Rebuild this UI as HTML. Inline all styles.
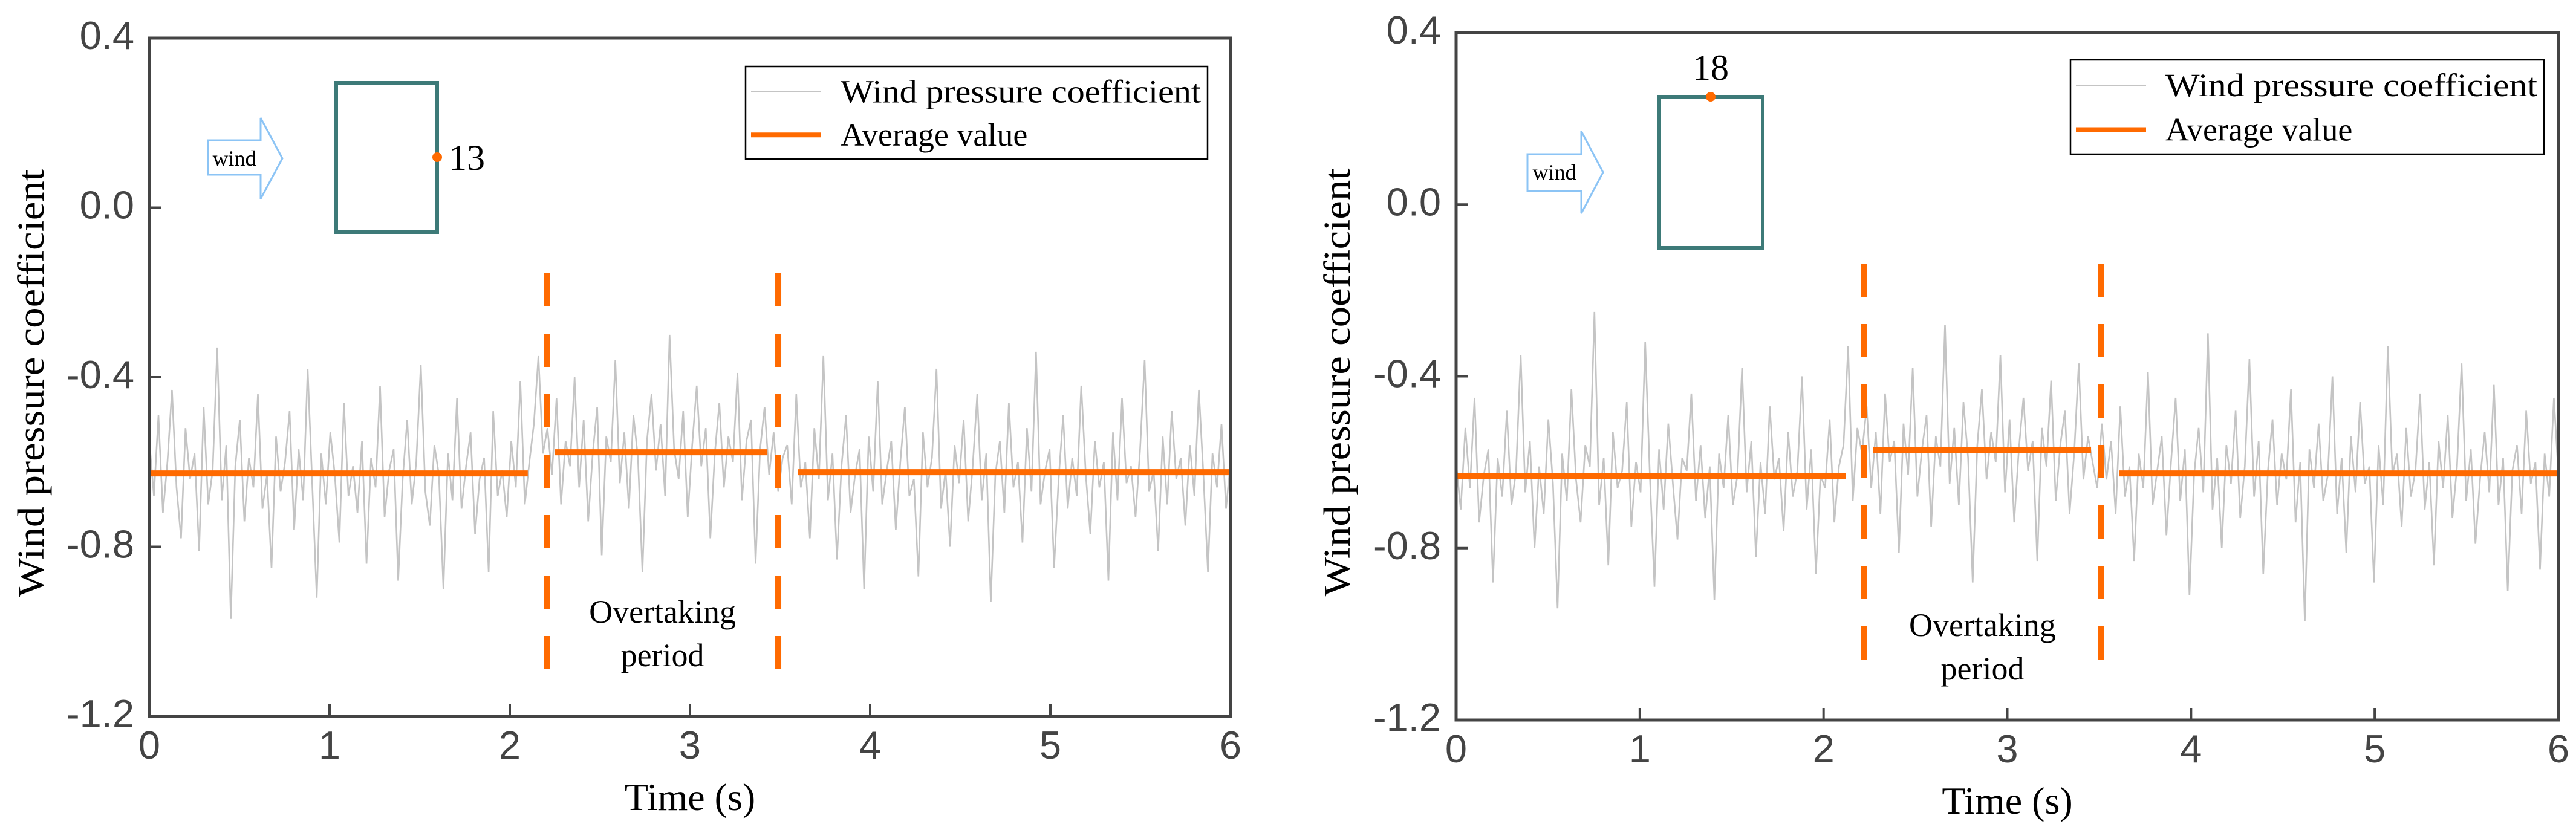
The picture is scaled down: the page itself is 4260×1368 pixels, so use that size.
<!DOCTYPE html>
<html><head><meta charset="utf-8"><style>
html,body{margin:0;padding:0;background:#fff;}
svg{display:block;}
</style></head><body>
<svg id="fig" width="4260" height="1368" viewBox="0 0 4260 1368" xmlns="http://www.w3.org/2000/svg"></svg>
<script>
const xTicks = [0,1,2,3,4,5,6];
const yTicks = [0.4,0.0,-0.4,-0.8,-1.2];
const yTickLabels = ["0.4","0.0","-0.4","-0.8","-1.2"];
const noiseLeft = [
-0.55,-0.68,-0.49,-0.72,-0.60,-0.43,-0.66,-0.78,-0.52,-0.64,
-0.58,-0.81,-0.47,-0.70,-0.62,-0.33,-0.69,-0.56,-0.97,-0.61,
-0.50,-0.74,-0.59,-0.66,-0.44,-0.71,-0.63,-0.85,-0.54,-0.67,
-0.60,-0.48,-0.76,-0.57,-0.69,-0.38,-0.65,-0.92,-0.58,-0.70,
-0.53,-0.63,-0.79,-0.46,-0.68,-0.61,-0.72,-0.55,-0.84,-0.59,
-0.66,-0.42,-0.73,-0.62,-0.57,-0.88,-0.64,-0.50,-0.70,-0.60,
-0.37,-0.67,-0.75,-0.56,-0.63,-0.90,-0.58,-0.69,-0.45,-0.71,
-0.61,-0.53,-0.77,-0.64,-0.59,-0.86,-0.48,-0.68,-0.62,-0.73,
-0.55,-0.66,-0.41,-0.70,-0.60,-0.51,-0.35,-0.58,
-0.52,-0.63,-0.45,-0.70,-0.55,-0.61,-0.40,-0.66,-0.50,-0.74,
-0.58,-0.47,-0.82,-0.54,-0.60,-0.36,-0.65,-0.53,-0.71,-0.49,
-0.59,-0.86,-0.55,-0.44,-0.62,-0.51,-0.68,-0.30,-0.57,-0.64,
-0.48,-0.73,-0.56,-0.42,-0.61,-0.52,-0.78,-0.58,-0.46,-0.66,
-0.54,-0.60,-0.39,-0.69,-0.55,-0.50,-0.84,-0.57,-0.47,-0.63,
-0.53,-0.67,-0.59,
-0.56,-0.70,-0.44,-0.66,-0.60,-0.78,-0.52,-0.64,-0.35,-0.69,
-0.58,-0.83,-0.61,-0.49,-0.72,-0.63,-0.57,-0.90,-0.54,-0.67,
-0.41,-0.70,-0.62,-0.55,-0.76,-0.60,-0.47,-0.68,-0.64,-0.87,
-0.53,-0.66,-0.59,-0.38,-0.71,-0.62,-0.80,-0.56,-0.65,-0.50,
-0.74,-0.61,-0.44,-0.69,-0.58,-0.93,-0.63,-0.55,-0.72,-0.46,
-0.66,-0.60,-0.79,-0.52,-0.67,-0.34,-0.70,-0.62,-0.57,-0.85,
-0.64,-0.49,-0.71,-0.59,-0.68,-0.42,-0.63,-0.77,-0.55,-0.66,
-0.60,-0.88,-0.53,-0.69,-0.45,-0.65,-0.61,-0.73,-0.57,-0.36,
-0.67,-0.62,-0.81,-0.54,-0.70,-0.48,-0.64,-0.59,-0.75,-0.56,
-0.68,-0.43,-0.63,-0.86,-0.58,-0.66,-0.51,-0.71,-0.60];
const noiseRight = [
-0.60,-0.71,-0.52,-0.66,-0.45,-0.74,-0.63,-0.57,-0.88,-0.59,
-0.68,-0.48,-0.70,-0.62,-0.35,-0.67,-0.55,-0.80,-0.61,-0.72,
-0.50,-0.65,-0.94,-0.58,-0.69,-0.43,-0.64,-0.74,-0.56,-0.61,
-0.25,-0.70,-0.59,-0.84,-0.53,-0.66,-0.62,-0.46,-0.75,-0.60,
-0.67,-0.32,-0.63,-0.89,-0.57,-0.71,-0.51,-0.65,-0.78,-0.59,
-0.62,-0.44,-0.69,-0.56,-0.73,-0.61,-0.92,-0.58,-0.66,-0.49,
-0.70,-0.63,-0.38,-0.67,-0.55,-0.82,-0.60,-0.72,-0.47,-0.64,
-0.59,-0.76,-0.53,-0.68,-0.62,-0.40,-0.71,-0.57,-0.86,-0.63,
-0.66,-0.50,-0.74,-0.61,-0.56,-0.33,-0.69,-0.52,
-0.58,-0.47,-0.66,-0.53,-0.72,-0.44,-0.60,-0.55,-0.81,-0.51,
-0.63,-0.38,-0.68,-0.57,-0.49,-0.75,-0.54,-0.61,-0.28,-0.65,
-0.52,-0.70,-0.46,-0.59,-0.88,-0.56,-0.43,-0.64,-0.53,-0.60,
-0.35,-0.67,-0.50,-0.74,-0.57,-0.45,-0.62,-0.55,-0.83,-0.52,
-0.61,-0.41,-0.69,-0.56,-0.48,-0.72,-0.58,-0.37,-0.64,-0.54,
-0.60,-0.66,-0.51,
-0.64,-0.55,-0.72,-0.47,-0.68,-0.61,-0.83,-0.58,-0.66,-0.39,
-0.70,-0.62,-0.54,-0.77,-0.60,-0.45,-0.69,-0.57,-0.91,-0.63,
-0.52,-0.67,-0.30,-0.71,-0.59,-0.80,-0.56,-0.65,-0.48,-0.73,
-0.61,-0.36,-0.68,-0.55,-0.86,-0.62,-0.50,-0.70,-0.58,-0.64,
-0.43,-0.74,-0.60,-0.97,-0.57,-0.66,-0.51,-0.69,-0.63,-0.40,
-0.72,-0.59,-0.81,-0.54,-0.67,-0.46,-0.65,-0.61,-0.88,-0.56,
-0.70,-0.33,-0.63,-0.58,-0.75,-0.52,-0.68,-0.62,-0.44,-0.71,
-0.60,-0.84,-0.55,-0.66,-0.49,-0.73,-0.61,-0.37,-0.69,-0.57,
-0.79,-0.64,-0.53,-0.67,-0.42,-0.70,-0.59,-0.90,-0.62,-0.56,
-0.72,-0.48,-0.65,-0.60,-0.85,-0.58,-0.68,-0.45,-0.63];
const avgStartLeft = [0, 2.25, 3.6];
const avgEndLeft = [2.1, 3.43, 6];
const avgValueLeft = [-0.627, -0.577, -0.624];
const avgStartRight = [0, 2.27, 3.61];
const avgEndRight = [2.12, 3.456, 6];
const avgValueRight = [-0.632, -0.572, -0.626];
const overtakeLeft = [2.205, 3.49];
const overtakeRight = [2.22, 3.51];
const pointLeft = "13";
const pointRight = "18";

const NS = "http://www.w3.org/2000/svg";
const svg = document.getElementById('fig');
function mk(tag, attrs, parent, text){
  const e = document.createElementNS(NS, tag);
  for (const k in attrs) e.setAttribute(k, attrs[k]);
  if (text !== undefined) e.textContent = text;
  (parent || svg).appendChild(e);
  return e;
}
const SERIF = '"Liberation Serif", serif';
const SANS = '"Liberation Sans", "DejaVu Sans", sans-serif';
const ORANGE = '#ff6a00';

function drawPanel(P){
  const g = mk('g', {});
  
  
  const sx = t => P.x0 + (t - 0) / 6 * (P.x1 - P.x0);
  const sy = v => P.y1 + (v - (-1.2)) / 1.6 * (P.y0 - P.y1);

  let d = '';
  const n = P.noise.length;
  P.noise.forEach((v, i) => { d += (i ? 'L' : 'M') + sx(i * 6 / (n - 1)).toFixed(1) + ' ' + sy(v).toFixed(1); });
  const nl = mk('path', {d: d, fill: 'none', stroke: '#c4c4c4', 'stroke-width': 2.6}, g);
  
  

  P.avgS.forEach((s, i) => {
    const l = mk('line', {x1: sx(s), x2: sx(P.avgE[i]), y1: sy(P.avgV[i]), y2: sy(P.avgV[i]), stroke: ORANGE, 'stroke-width': 10}, g);
    
    
  });
  P.dash.forEach((t, i) => {
    const l = mk('line', {x1: sx(t), x2: sx(t), y1: P.dashY0, y2: P.dashY1, stroke: ORANGE, 'stroke-width': 10, 'stroke-dasharray': '55 45'}, g);
    
    
  });
  const ot = mk('text', {x: (sx(P.dash[0]) + sx(P.dash[1])) / 2, y: P.otY, 'font-family': SERIF, 'font-size': 54, 'text-anchor': 'middle', fill: '#000'}, g, 'Overtaking');
  
  
  const ot2 = mk('text', {x: (sx(P.dash[0]) + sx(P.dash[1])) / 2, y: P.otY + 72, 'font-family': SERIF, 'font-size': 54, 'text-anchor': 'middle', fill: '#000'}, g, 'period');
  
  

  const fr = mk('rect', {x: P.x0, y: P.y0, width: P.x1 - P.x0, height: P.y1 - P.y0, fill: 'none', stroke: '#444', 'stroke-width': 5}, g);
  
  
  xTicks.forEach(t => {
    if (t > 0 && t < 6) {
      const tk = mk('line', {x1: sx(t), x2: sx(t), y1: P.y1, y2: P.y1 - 20, stroke: '#444', 'stroke-width': 4}, g);
      
      
    }
    const lb = mk('text', {x: sx(t), y: P.y1 + 70, 'font-family': SANS, 'font-size': 65, 'text-anchor': 'middle', fill: '#444'}, g, String(t));
    
    
  });
  yTicks.forEach((v, i) => {
    if (v < 0.39 && v > -1.19) {
      const tk = mk('line', {x1: P.x0, x2: P.x0 + 20, y1: sy(v), y2: sy(v), stroke: '#444', 'stroke-width': 4}, g);
      
      
    }
    const lb = mk('text', {x: P.x0 - 25, y: sy(v) + 18, 'font-family': SANS, 'font-size': 65, 'text-anchor': 'end', fill: '#444'}, g, yTickLabels[i]);
    
    
  });
  const xt = mk('text', {x: (P.x0 + P.x1) / 2, y: P.y1 + 155, 'font-family': SERIF, 'font-size': 64, 'text-anchor': 'middle', fill: '#000'}, g, 'Time (s)');
  
  
  const yt = mk('text', {x: 0, y: 0, 'font-family': SERIF, 'font-size': 62, 'text-anchor': 'middle', fill: '#000', textLength: 708, lengthAdjust: 'spacingAndGlyphs', transform: 'translate(' + P.ytX + ',' + ((P.y0 + P.y1) / 2 + 10) + ') rotate(-90)'}, g, 'Wind pressure coefficient');
  
  

  const lg = mk('g', {}, g);
  
  
  mk('rect', {x: P.lg[0], y: P.lg[1], width: P.lg[2], height: P.lg[3], fill: '#fff', stroke: '#000', 'stroke-width': 2.5}, lg);
  const ls = P.lg[0] + 9, le = P.lg[0] + 125, tx = P.lg[0] + 157;
  const r1 = P.lg[1] + P.lg[3] * 0.27, r2 = P.lg[1] + P.lg[3] * 0.74;
  const e1 = mk('line', {x1: ls, x2: le, y1: r1, y2: r1, stroke: '#c4c4c4', 'stroke-width': 2}, lg);
  
  
  mk('text', {x: tx, y: r1 + 18, 'font-family': SERIF, 'font-size': 54, fill: '#000', textLength: P.lg[2] - 168, lengthAdjust: 'spacingAndGlyphs'}, lg, 'Wind pressure coefficient');
  const e2 = mk('line', {x1: ls, x2: le, y1: r2, y2: r2, stroke: ORANGE, 'stroke-width': 8}, lg);
  
  
  mk('text', {x: tx, y: r2 + 18, 'font-family': SERIF, 'font-size': 54, fill: '#000'}, lg, 'Average value');

  const ar = P.arrow;
  const ag = mk('g', {}, g);
  
  
  const cy = (ar[1] + ar[3]) / 2;
  mk('polygon', {points: [ar[0], ar[4], ar[6], ar[4], ar[6], ar[1], ar[2], cy, ar[6], ar[3], ar[6], ar[5], ar[0], ar[5]].join(' ').replace(/(\S+) (\S+)/g, '$1,$2'), fill: '#fff', stroke: '#8cc4f5', 'stroke-width': 3}, ag);
  mk('text', {x: (ar[0] + ar[6]) / 2, y: cy + 12, 'font-family': SERIF, 'font-size': 36, 'text-anchor': 'middle', fill: '#000'}, ag, 'wind');
  const b = P.bld;
  const bg = mk('rect', {x: b[0], y: b[1], width: b[2] - b[0], height: b[3] - b[1], fill: 'none', stroke: '#3d7a78', 'stroke-width': 6}, g);
  
  
  const dot = mk('circle', {cx: P.pt[0], cy: P.pt[1], r: 8, fill: ORANGE}, g);
  
  
  const pl = mk('text', {x: P.ptl[0], y: P.ptl[1], 'font-family': SERIF, 'font-size': 60, 'text-anchor': P.ptl[2], fill: '#000'}, g, P.label);
  
  
}

drawPanel({name: 'left-panel', x0: 247, x1: 2035, y0: 63, y1: 1185, noise: noiseLeft,
  avgS: avgStartLeft, avgE: avgEndLeft, avgV: avgValueLeft, dash: overtakeLeft, dashY0: 452, dashY1: 1121, otY: 1030,
  ytX: 72, lg: [1233, 110, 764, 153], arrow: [344, 195, 467, 329, 232, 289, 431],
  bld: [556, 137, 723, 384], pt: [723, 260], ptl: [742, 281, 'start'], label: pointLeft});
drawPanel({name: 'right-panel', x0: 2408, x1: 4231, y0: 54, y1: 1191, noise: noiseRight,
  avgS: avgStartRight, avgE: avgEndRight, avgV: avgValueRight, dash: overtakeRight, dashY0: 436, dashY1: 1125, otY: 1052,
  ytX: 2232, lg: [3424, 99, 783, 156], arrow: [2526, 217, 2651, 353, 255, 316, 2615],
  bld: [2744, 160, 2915, 410], pt: [2829, 160], ptl: [2829, 132, 'middle'], label: pointRight});
</script>
</body></html>
